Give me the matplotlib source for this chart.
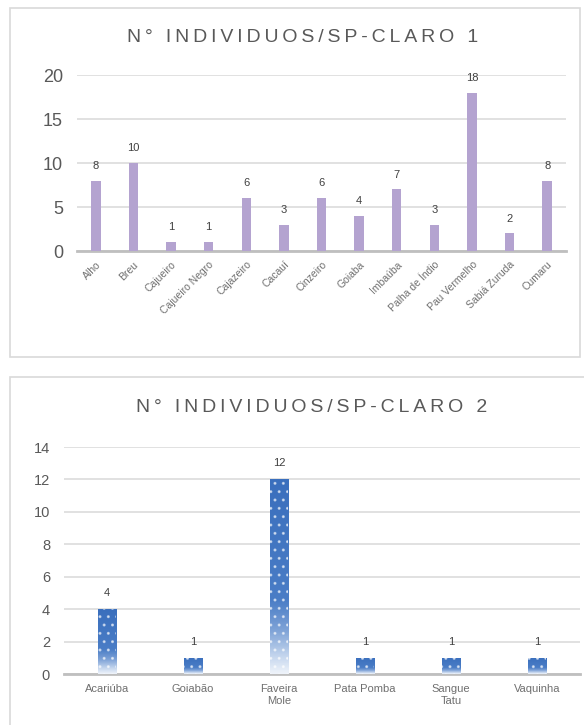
import matplotlib
matplotlib.use("Agg")
import matplotlib.pyplot as plt
import numpy as np
from matplotlib.patches import Rectangle
from matplotlib.colors import LinearSegmentedColormap

plt.rcParams['font.family'] = ['Liberation Sans', 'DejaVu Sans']

# ---- data ----
species_1 = ["Alho", "Breu", "Cajueiro", "Cajueiro Negro", "Cajazeiro", "Cacauí",
             "Cinzeiro", "Goiaba", "Imbaúba", "Palha de Índio", "Pau Vermelho",
             "Sabiá Zuruda", "Cumaru"]
counts_1 = [8, 10, 1, 1, 6, 3, 6, 4, 7, 3, 18, 2, 8]
title_1 = "N° INDIVIDUOS/SP-CLARO 1"

species_2 = ["Acariúba", "Goiabão", "Faveira\nMole", "Pata Pomba", "Sangue\nTatu", "Vaquinha"]
counts_2 = [4, 1, 12, 1, 1, 1]
title_2 = "N° INDIVIDUOS/SP-CLARO 2"

W, H = 584, 725
fig = plt.figure(figsize=(W / 100, H / 100), dpi=100)
fig.patch.set_facecolor("white")

TXT = "#595959"
GRID = "#d9d9d9"
AXIS = "#bfbfbf"


def spaced(s):
    # widen the title tracking with thin spaces between characters
    return "\u2009".join(s)


def px_axes(x0, x1, y_top, y_bot):
    return fig.add_axes([x0 / W, 1 - y_bot / H, (x1 - x0) / W, (y_bot - y_top) / H])


def frame(x0, y0, x1, y1):
    fig.add_artist(Rectangle((x0 / W, 1 - y1 / H), (x1 - x0) / W, (y1 - y0) / H,
                             transform=fig.transFigure, fill=False,
                             edgecolor=GRID, linewidth=1.2))


def style_axes(ax, ymax, step, tick_size):
    ax.set_ylim(0, ymax)
    ax.set_yticks(np.arange(0, ymax + 0.1, step))
    ax.yaxis.grid(True, color=GRID, linewidth=1.1)
    ax.set_axisbelow(True)
    for s in ("top", "right", "left"):
        ax.spines[s].set_visible(False)
    ax.spines["bottom"].set_color(AXIS)
    ax.spines["bottom"].set_linewidth(2)
    ax.tick_params(axis="y", length=0, labelsize=tick_size, labelcolor=TXT, pad=10)
    ax.tick_params(axis="x", length=0, labelcolor="#6f6f6f")
    ax.set_facecolor("none")


# ---- chart 1 ----
frame(10, 8, 580, 357)
fig.text(303 / W, 1 - 38 / H, spaced(title_1), ha="center", va="center",
         fontsize=14, color=TXT)
ax1 = px_axes(77, 566, 75, 251)
x1 = np.arange(len(species_1))
bars1 = ax1.bar(x1, counts_1, width=0.25, color="#b4a3d0", zorder=3)
ax1.set_xlim(-0.5, len(species_1) - 0.5)
style_axes(ax1, 20, 5, 13)
ax1.set_xticks(x1)
ax1.set_xticklabels(species_1, rotation=45, ha="right", rotation_mode="anchor",
                    fontsize=7.5)
ax1.tick_params(axis="x", pad=6)
for xi, v in zip(x1, counts_1):
    ax1.annotate(str(v), (xi, v), xytext=(0, 7), textcoords="offset points",
                 ha="center", va="bottom", fontsize=8, color="#404040")

# ---- chart 2 ----
frame(10, 377, 600, 740)
fig.text(312 / W, 1 - 408 / H, spaced(title_2), ha="center", va="center",
         fontsize=14, color=TXT)
ax2 = px_axes(64, 580, 447, 674)
x2 = np.arange(len(species_2))
ax2.set_xlim(-0.5, len(species_2) - 0.5)
style_axes(ax2, 14, 2, 10.5)
ax2.set_xticks(x2)
ax2.set_xticklabels(species_2, fontsize=8, linespacing=1.3)
ax2.tick_params(axis="x", pad=7)

blue = LinearSegmentedColormap.from_list(
    "fade", [(0.0, "#eef3fa"), (0.08, "#c9d9ef"), (0.22, "#7fa3d7"),
             (0.38, "#4a7dc6"), (1.0, "#3a6fbd")])
grad = np.linspace(0, 1, 200).reshape(-1, 1)
bw = 0.22
bars2 = ax2.bar(x2, counts_2, width=bw, color="none", zorder=3)
for rect in bars2:
    x0 = rect.get_x()
    h = rect.get_height()
    im = ax2.imshow(grad, extent=[x0, x0 + bw, 0, h], origin="lower",
                    aspect="auto", cmap=blue, zorder=3)
    im.set_clip_path(rect)
plt.rcParams['hatch.linewidth'] = 1.0
ax2.bar(x2, counts_2, width=bw, facecolor="none", edgecolor="white",
        hatch="..", linewidth=0, alpha=0.55, zorder=4)
ax2.set_xlim(-0.5, len(species_2) - 0.5)
ax2.set_ylim(0, 14)
for xi, v in zip(x2, counts_2):
    ax2.annotate(str(v), (xi, v), xytext=(0, 8), textcoords="offset points",
                 ha="center", va="bottom", fontsize=8, color="#404040")

fig.savefig("out.png", dpi=100, facecolor="white")
